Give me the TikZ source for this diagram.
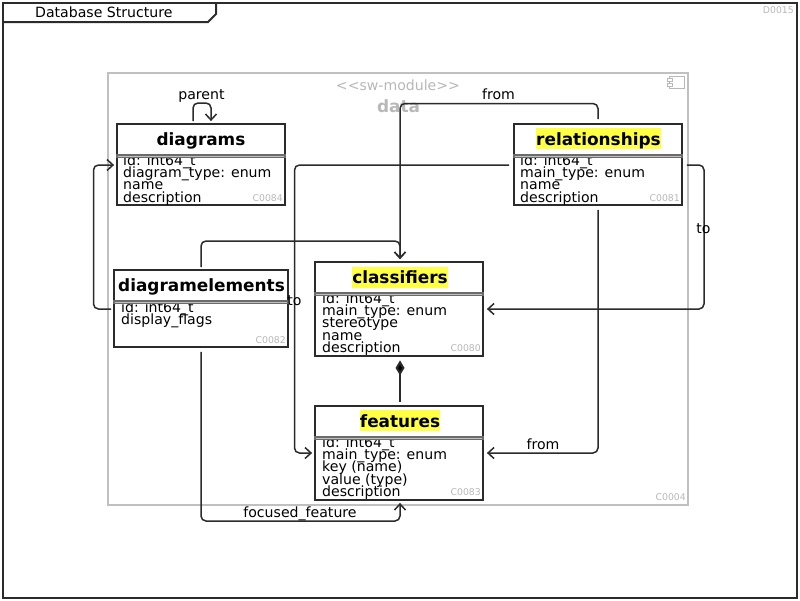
\documentclass[tikz,border=0pt]{standalone}
\usepackage{fontspec}
\setmainfont{DejaVu Sans}
\usetikzlibrary{arrows.meta}
\definecolor{ink}{HTML}{2B2B2B}
\definecolor{soft}{HTML}{C0C0C0}
\definecolor{idgrey}{HTML}{B8B8B8}
\definecolor{hilite}{HTML}{FFFF44}
\newcommand{\tightlines}{\lineskiplimit=-100pt\relax}
\tikzset{
  x=1pt,y=-1pt,
  classbox/.style={draw=ink,line width=1.8pt,fill=white,inner sep=0pt,minimum width=168pt},
  titletext/.style={font=\fontsize{16.9}{18}\selectfont\bfseries,inner sep=0pt,text depth=4pt,text height=16pt,text=black},
  fields/.style={font=\fontsize{14.1}{12.25}\selectfont\tightlines,align=left,inner sep=0pt,anchor=north west,text=black},
  tag/.style={font=\fontsize{9.3}{10}\selectfont,text=idgrey,inner sep=0pt,anchor=south east},
  lbl/.style={font=\fontsize{14.1}{15}\selectfont,inner sep=0pt,text=black},
  conn/.style={draw=ink,line width=1.5pt,rounded corners=5pt,-{Straight Barb[length=6pt,width=11pt,line width=1.5pt]}},
  rule/.style={draw=ink!70,line width=1.2pt,fill=soft},
}
\begin{document}
\begin{tikzpicture}
\useasboundingbox (0,0) rectangle (800,600);
\fill[white] (0,0) rectangle (800,600);
% frame
\node[draw=ink,line width=2pt,inner sep=0pt,minimum width=794pt,minimum height=595pt] (frame) at (400,300.5) {};
\coordinate (tabA) at (216,3);
\coordinate (tabB) at (216,14);
\coordinate (tabC) at (208,22);
\coordinate (tabD) at (3,22);
\draw[draw=ink,line width=2pt] (tabA) -- (tabB) -- (tabC) -- (tabD);
\node[lbl,anchor=base west] (frametitle) at (35,17) {Database Structure};
\node[tag] (frameid) at (794,13.5) {D0015};
% package
\node[draw=soft,line width=2pt,inner sep=0pt,minimum width=580pt,minimum height=432pt] (pkg) at (398,289) {};
\node[font=\fontsize{14.1}{16}\selectfont,text=idgrey,inner sep=0pt] (stereo) at (398,85.5) {<{}<sw-module>{}>};
\node[font=\fontsize{16.9}{18}\selectfont\bfseries,text=idgrey,inner sep=0pt] (pkgname) at (398.5,106.5) {data};
\node[tag] (pkgid) at (686,500.5) {C0004};
\draw[draw=idgrey,line width=1pt] (669.5,76.5) rectangle (684.5,88.5);
\draw[draw=idgrey,line width=1pt,fill=white] (667.5,78.5) rectangle (672.5,81.5);
\draw[draw=idgrey,line width=1pt,fill=white] (667.5,83.5) rectangle (672.5,86.5);
% diagrams
\node[classbox,minimum height=81pt] (diagrams) at (201,164.5) {};
\node[titletext] (diagramsT) at (201,139) {diagrams};
\node[fields] (diagramsF) at (123,154.5) {id: int64\_t\\diagram\_type: enum\\name\\description};
\draw[rule] (117,155) rectangle (285,157.3);
\node[tag] at (283,201.5) {C0084};
% relationships
\node[classbox,minimum height=81pt] (relationships) at (598,164.5) {};
\fill[hilite] (536,128) rectangle (661,149);
\node[titletext] (relationshipsT) at (598.5,139) {relationships};
\node[fields] (relationshipsF) at (520,154.5) {id: int64\_t\\main\_type: enum\\name\\description};
\draw[rule] (514,155) rectangle (682,157.3);
\node[tag] at (680,201.5) {C0081};
% diagramelements
\node[classbox,minimum width=174pt,minimum height=77pt] (diagramelements) at (201,308.5) {};
\node[titletext] (diagramelementsT) at (201.5,285) {diagramelements};
\node[fields] (diagramelementsF) at (121,301.5) {id: int64\_t\\display\_flags};
\draw[rule] (114,301) rectangle (288,303.3);
\node[tag] at (286,343.5) {C0082};
% classifiers
\node[classbox,minimum height=94pt] (classifiers) at (399,309) {};
\fill[hilite] (352,267) rectangle (448,288);
\node[titletext] (classifiersT) at (400,277) {classifiers};
\node[fields] (classifiersF) at (322,292.5) {id: int64\_t\\main\_type: enum\\stereotype\\name\\description};
\draw[rule] (315,293) rectangle (483,295.3);
\node[tag] at (481,351.5) {C0080};
% features
\node[classbox,minimum height=94pt] (features) at (399,453) {};
\fill[hilite] (360,410) rectangle (440,431);
\node[titletext] (featuresT) at (400,421) {features};
\node[fields] (featuresF) at (322,436.5) {id: int64\_t\\main\_type: enum\\key (name)\\value (type)\\description};
\draw[rule] (315,437) rectangle (483,439.3);
\node[tag] at (481,495.5) {C0083};
% connectors
\coordinate (parentA) at ([xshift=-8pt,yshift=2pt]diagrams.north);
\coordinate (parentB) at ([xshift=10pt,yshift=2pt]diagrams.north);
\draw[conn] (parentA) -- (193,103) -- (211,103) -- (parentB);
\node[lbl,anchor=base] (lparent) at (201.5,99) {parent};
\draw[conn] ([xshift=-2pt,yshift=-0.5pt]diagramelements.west) -- (93.5,309) -- (93.5,165) -- ([xshift=-2pt,yshift=-0.5pt]diagrams.west);
\draw[conn] ([yshift=4pt]relationships.north) -- (598,103.5) -- (400,103.5) -- ([xshift=1pt,yshift=2pt]classifiers.north);
\node[lbl,anchor=base] (lfrom1) at (498.5,99) {from};
\draw[conn] ([xshift=-4pt,yshift=-0.5pt]relationships.west) -- (294.5,165) -- (294.5,453) -- ([xshift=-2pt]features.west);
\node[lbl,anchor=base] (lto1) at (294.5,305) {to};
\draw[conn] ([xshift=4pt,yshift=-0.5pt]relationships.east) -- (704,165) -- (704,309) -- ([xshift=3pt]classifiers.east);
\node[lbl,anchor=base] (lto2) at (703.5,233) {to};
\draw[conn] ([yshift=-4pt]relationships.south) -- (598,453) -- ([xshift=3pt]features.east);
\node[lbl,anchor=base] (lfrom2) at (543,449) {from};
\draw[conn] ([yshift=2pt]diagramelements.north) -- (201,241) -- (400,241) -- ([xshift=1pt,yshift=2pt]classifiers.north);
\draw[conn] ([yshift=-4pt]diagramelements.south) -- (201,521) -- (400,521) -- ([xshift=1pt,yshift=-2pt]features.south);
\node[lbl,anchor=base] (lfocus) at (300,517) {focused\_feature};
\coordinate (compA) at ([xshift=1pt,yshift=3pt]features.north);
\coordinate (compB) at ([xshift=1pt,yshift=-3.5pt]classifiers.south);
\draw[draw=ink,line width=2pt,-{Diamond[length=15pt,width=9pt,fill=black]}] (compA) -- (compB);
\end{tikzpicture}
\end{document}
